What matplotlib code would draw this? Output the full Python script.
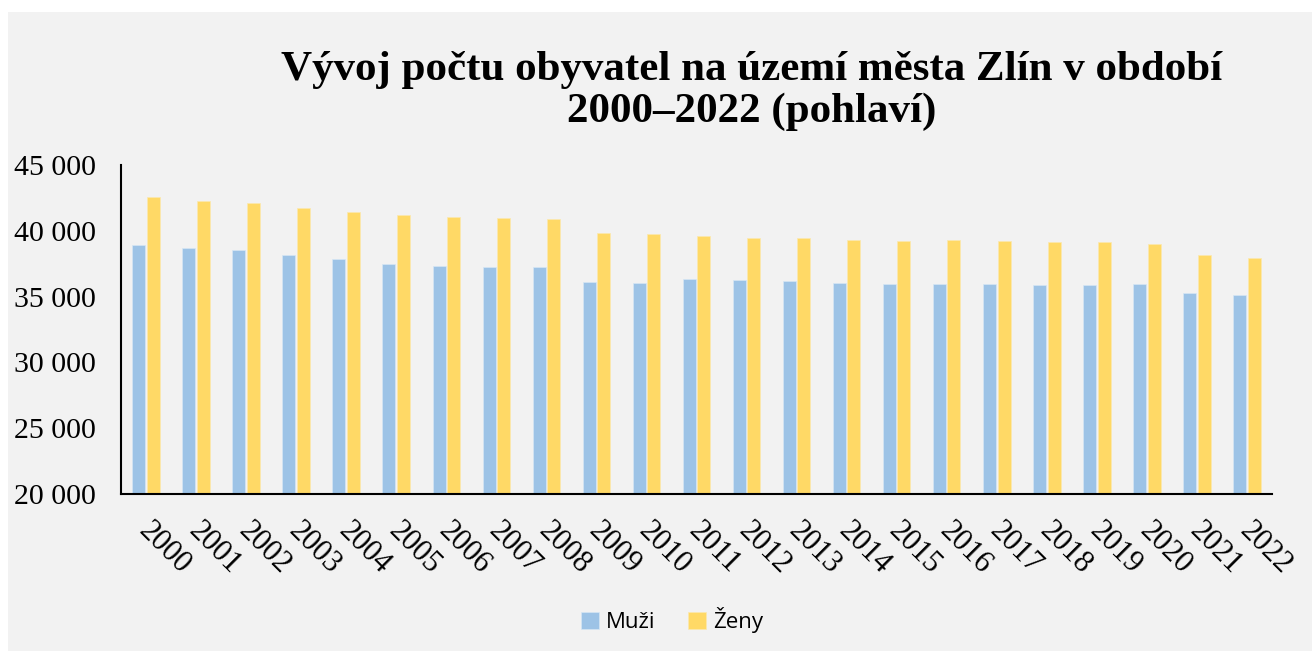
import numpy as np
import matplotlib.pyplot as plt
import matplotlib.transforms as mtransforms
from matplotlib.patches import Rectangle
from matplotlib.ticker import FuncFormatter

years = [str(y) for y in range(2000, 2023)]
muzi = [38920, 38720, 38540, 38160, 37830, 37500, 37320, 37250, 37230,
        36110, 36060, 36360, 36260, 36210, 36030, 35930, 35930, 35930,
        35880, 35910, 35960, 35250, 35100]
zeny = [42590, 42260, 42110, 41760, 41430, 41200, 41050, 40950, 40900,
        39810, 39730, 39580, 39450, 39430, 39320, 39250, 39300, 39220,
        39120, 39150, 39020, 38160, 37930]

W, H = 1312, 651
fig = plt.figure(figsize=(W / 100, H / 100), dpi=100, facecolor="white")
fig.patches.append(Rectangle((8 / W, 0), 1, 1 - 12 / H, transform=fig.transFigure,
                             facecolor="#f2f2f2", edgecolor="none", zorder=-5))

ax = fig.add_axes([121 / W, 1 - 494 / H, (1272 - 121) / W, (494 - 165) / H])
ax.set_facecolor("none")

x = np.arange(len(years))
bw = 0.26
ax.bar(x - bw / 2 - 0.015, muzi, bw, color="#9dc3e6", edgecolor="#d6e6f5",
       linewidth=0.5, label="Muži")
ax.bar(x + bw / 2 + 0.015, zeny, bw, color="#ffd966", edgecolor="#fbe9b0",
       linewidth=0.5, label="Ženy")

ax.set_xlim(-0.5, len(years) - 0.5)
ax.set_ylim(20000, 45000)
ax.set_yticks(range(20000, 45001, 5000))
ax.yaxis.set_major_formatter(FuncFormatter(lambda v, p: f"{int(v):,}".replace(",", " ")))
ax.set_xticks(x)
ax.set_xticklabels(years, rotation=-45, ha="left", va="top", rotation_mode="anchor")
ax.tick_params(axis="y", length=0, labelsize=21.5, pad=18)
ax.tick_params(axis="x", length=0, labelsize=22, pad=16)
shift = mtransforms.ScaledTranslation(7 / 100, 0, fig.dpi_scale_trans)
for lab in ax.get_xticklabels():
    lab.set_transform(lab.get_transform() + shift)
for lab in ax.get_xticklabels() + ax.get_yticklabels():
    lab.set_family("Liberation Serif")
for s in ["top", "right"]:
    ax.spines[s].set_visible(False)
for s in ["left", "bottom"]:
    ax.spines[s].set_linewidth(1.5)
    ax.spines[s].set_color("black")

fig.text(752 / W, 1 - 91 / H, "Vývoj počtu obyvatel na území města Zlín v období\n2000–2022 (pohlaví)",
         ha="center", va="center", fontsize=31, fontweight="bold",
         family="Liberation Serif", linespacing=1.1)

fig.legend(loc="center", bbox_to_anchor=(672 / W, 1 - 620 / H), ncol=2, frameon=False,
           prop={"family": "Open Sans", "size": 16}, handlelength=0.8, handleheight=0.8,
           columnspacing=1.5, handletextpad=0.3)

fig.savefig("out.png", dpi=100, facecolor="white")
